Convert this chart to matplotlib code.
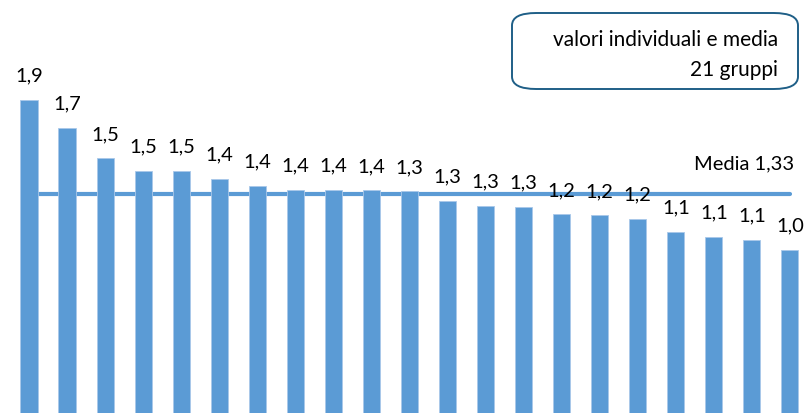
import matplotlib.pyplot as plt
import numpy as np
from matplotlib.patches import FancyBboxPatch

# values, sorted high to low (21 groups)
valori = [1.90, 1.73, 1.546, 1.47, 1.47, 1.42, 1.38, 1.356, 1.354, 1.352, 1.346,
          1.29, 1.26, 1.253, 1.206, 1.20, 1.18, 1.10, 1.07, 1.05, 0.992]
media = 1.33
titolo = ["valori individuali e media", "21 gruppi"]

plt.rcParams['font.family'] = ['Lato', 'DejaVu Sans']
BLU = '#5B9BD5'

fig = plt.figure(figsize=(8.07, 4.14), dpi=100)
ax = fig.add_axes([0, 0, 1, 1])

x = np.arange(len(valori))
ax.bar(x, valori, width=0.45, color=BLU, edgecolor='#A9C8EA', linewidth=0.6, zorder=3)
ax.plot([x[0], x[-1]], [media, media], color=BLU, lw=3, solid_capstyle='round', zorder=2)

for xi, v in zip(x, valori):
    ax.text(xi, v + 0.1, "{:.1f}".format(v).replace('.', ','), ha='center', va='bottom',
            fontsize=14.5, color='black')

ax.text(20.1, media + 0.19, "Media {:.2f}".format(media).replace('.', ','), ha='right',
        va='center', fontsize=14.5)

# box with the title
box = FancyBboxPatch((512 / 807, 1 - 90 / 414), 286 / 807, 76 / 414,
                     boxstyle="round,pad=0,rounding_size=0.03", transform=fig.transFigure,
                     facecolor='white', edgecolor='#1F5F87', linewidth=1.4, zorder=5)
fig.patches.append(box)
fig.text(778 / 807, 1 - 40 / 414, titolo[0], ha='right', va='center', fontsize=15, zorder=6)
fig.text(778 / 807, 1 - 70 / 414, titolo[1], ha='right', va='center', fontsize=15, zorder=6)

ax.set_xlim(-0.762, 20.45)
ax.set_ylim(0, 2.514)
ax.axis('off')

fig.savefig('out.png', dpi=100)
